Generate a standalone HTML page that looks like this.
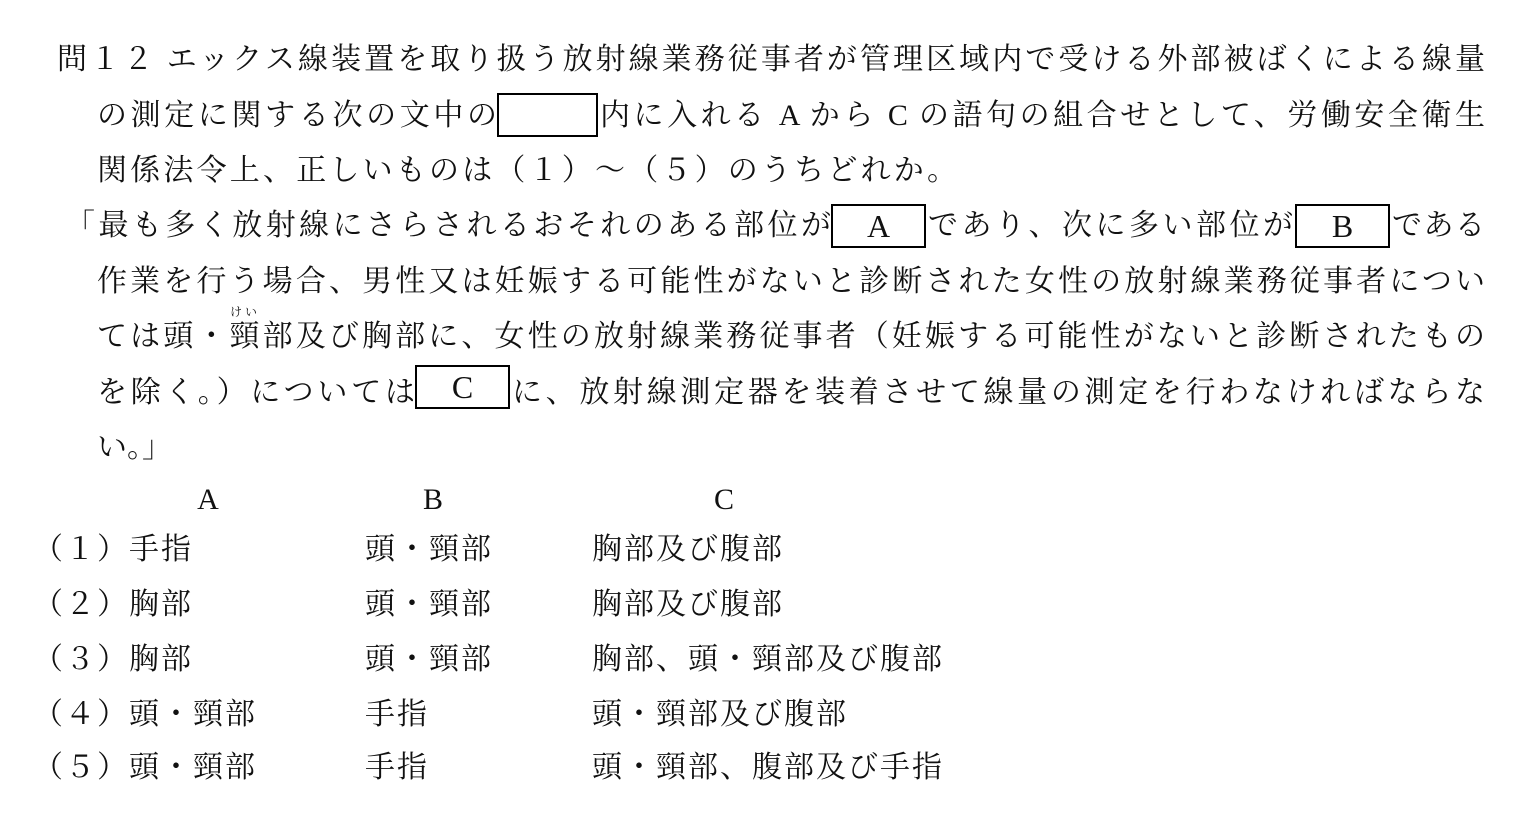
<!DOCTYPE html>
<html><head><meta charset="utf-8">
<style>
html,body{margin:0;padding:0;background:#fff;}
body{width:1518px;height:815px;position:relative;overflow:hidden;
font-family:"Liberation Serif","Noto Serif CJK SC",serif;color:#111;}
.l{position:absolute;height:40px;line-height:40px;font-size:30px;white-space:nowrap;}
.j{text-align:justify;text-align-last:justify;white-space:normal;overflow:visible;}
.box{position:absolute;border:2px solid #000;box-sizing:border-box;height:44px;
font-size:32px;line-height:40px;text-align:center;}
.t{position:absolute;height:40px;line-height:40px;font-size:30px;white-space:nowrap;letter-spacing:2px;}
.h{position:absolute;font-size:30px;line-height:40px;transform:translateX(-50%);}
</style></head><body>

<div class="l j" style="left:57px;width:1428px;top:40px;">問１２ エックス線装置を取り扱う放射線業務従事者が管理区域内で受ける外部被ばくによる線量</div>

<div class="l j" style="left:97px;width:400px;top:96px;">の測定に関する次の文中の</div>
<div class="box" style="left:497px;width:101px;top:93px;"></div>
<div class="l j" style="left:600px;width:885px;top:96px;">内に入れる A から C の語句の組合せとして、労働安全衛生</div>

<div class="l" style="left:97px;top:151px;letter-spacing:3.2px;">関係法令上、正しいものは（１）～（５）のうちどれか。</div>

<div class="l j" style="left:65px;width:766px;top:206px;">「最も多く放射線にさらされるおそれのある部位が</div>
<div class="box" style="left:831px;width:95px;top:204px;">A</div>
<div class="l j" style="left:928px;width:365px;top:206px;">であり、次に多い部位が</div>
<div class="box" style="left:1295px;width:95px;top:204px;">B</div>
<div class="l j" style="left:1392px;width:93px;top:206px;">である</div>

<div class="l j" style="left:97px;width:1388px;top:262px;">作業を行う場合、男性又は妊娠する可能性がないと診断された女性の放射線業務従事者につい</div>

<div style="position:absolute;left:230px;top:306px;font-size:12px;line-height:12px;letter-spacing:3px;">けい</div>
<div class="l j" style="left:97px;width:1388px;top:317px;">ては頭・頸部及び胸部に、女性の放射線業務従事者（妊娠する可能性がないと診断されたもの</div>

<div class="l j" style="left:97px;width:318px;top:373px;">を除く。）については</div>
<div class="box" style="left:415px;width:95px;top:365px;">C</div>
<div class="l j" style="left:512px;width:973px;top:373px;">に、放射線測定器を装着させて線量の測定を行わなければならな</div>

<div class="l" style="left:97px;top:428px;">い。」</div>

<div class="h" style="left:208px;top:480px;">A</div>
<div class="h" style="left:433px;top:480px;">B</div>
<div class="h" style="left:724px;top:480px;">C</div>

<div class="t" style="left:33px;top:530px;">（１）手指</div>
<div class="t" style="left:365px;top:530px;">頭・頸部</div>
<div class="t" style="left:592px;top:530px;">胸部及び腹部</div>

<div class="t" style="left:33px;top:585px;">（２）胸部</div>
<div class="t" style="left:365px;top:585px;">頭・頸部</div>
<div class="t" style="left:592px;top:585px;">胸部及び腹部</div>

<div class="t" style="left:33px;top:640px;">（３）胸部</div>
<div class="t" style="left:365px;top:640px;">頭・頸部</div>
<div class="t" style="left:592px;top:640px;">胸部、頭・頸部及び腹部</div>

<div class="t" style="left:33px;top:695px;">（４）頭・頸部</div>
<div class="t" style="left:365px;top:695px;">手指</div>
<div class="t" style="left:592px;top:695px;">頭・頸部及び腹部</div>

<div class="t" style="left:33px;top:748px;">（５）頭・頸部</div>
<div class="t" style="left:365px;top:748px;">手指</div>
<div class="t" style="left:592px;top:748px;">頭・頸部、腹部及び手指</div>

</body></html>
